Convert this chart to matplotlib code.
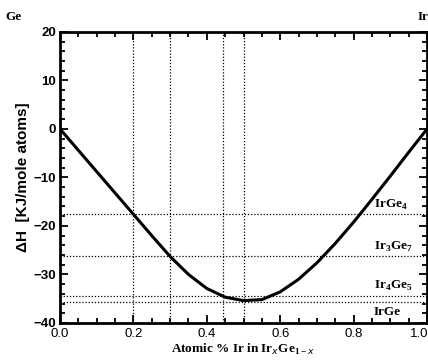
import numpy as np
import matplotlib
matplotlib.use("Agg")
import matplotlib.pyplot as plt
from matplotlib.ticker import MultipleLocator, FuncFormatter

# formation enthalpy curve
x_ir = [0.0, 0.05, 0.1, 0.15, 0.2, 0.25, 0.3, 0.35, 0.4, 0.45, 0.5, 0.55, 0.6, 0.65, 0.7, 0.75, 0.8, 0.85, 0.9, 0.95, 1.0]
dh = [0.0, -4.4, -8.8, -13.2, -17.6, -22.0, -26.3, -30.0, -32.9, -34.7, -35.4, -35.2, -33.6, -31.0, -27.6, -23.6, -19.2, -14.5, -9.7, -4.8, 0.0]

# compounds: composition and enthalpy
compounds = ["IrGe$_4$", "Ir$_3$Ge$_7$", "Ir$_4$Ge$_5$", "IrGe"]
comp_x = [0.2, 0.3, 0.444, 0.5]
comp_dh = [-17.6, -26.3, -34.4, -35.6]
label_y = [-15.6, -24.3, -32.4, -37.8]

plt.rcParams["font.family"] = "Liberation Sans"
plt.rcParams["mathtext.fontset"] = "custom"
plt.rcParams["mathtext.rm"] = "Liberation Serif:bold"
plt.rcParams["mathtext.bf"] = "Liberation Serif:bold"

fig = plt.figure(figsize=(4.28, 3.62), dpi=100)
ax = fig.add_axes([0.140, 0.108, 0.858, 0.804])

for cx in comp_x:
    ax.axvline(cx, color="k", ls=(0, (1, 1.5)), lw=0.9)
for cy in comp_dh:
    ax.axhline(cy, color="k", ls=(0, (1, 1.5)), lw=0.9)

ax.plot(x_ir, dh, color="k", lw=2.2)

for name, ly in zip(compounds, label_y):
    ax.text(0.855, ly, name, fontsize=9.5, fontweight="bold",
            family="Liberation Serif", ha="left", va="center")

ax.set_xlim(0, 1)
ax.set_ylim(-40, 20)
ax.xaxis.set_major_locator(MultipleLocator(0.2))
ax.xaxis.set_minor_locator(MultipleLocator(0.05))
# the 1.0 label is drawn separately so it stays inside the figure
ax.xaxis.set_major_formatter(FuncFormatter(lambda v, p: "" if v > 0.99 else f"{v:.1f}"))
ax.yaxis.set_major_locator(MultipleLocator(10))
ax.yaxis.set_minor_locator(MultipleLocator(2))
ax.tick_params(which="both", direction="in", top=True, right=True, width=1.3)
ax.tick_params(which="major", length=6)
ax.tick_params(which="minor", length=3.5)
ax.tick_params(axis="x", labelsize=9.5, pad=4)
ax.tick_params(axis="y", labelsize=9.5, pad=3)
for sp in ax.spines.values():
    sp.set_linewidth(2)

ax.annotate("1.0", xy=(1.0, 0), xycoords=("data", "axes fraction"),
            xytext=(1, -4), textcoords="offset points",
            ha="right", va="top", fontsize=9.5, annotation_clip=False)

ax.set_ylabel("ΔH  [KJ/mole atoms]", fontsize=11, fontweight="bold", labelpad=2)
ax.set_xlabel("Atomic % Ir in Ir$_x$Ge$_{1-x}$", fontsize=9.5, fontweight="bold",
              family="Liberation Serif", labelpad=1)

fig.text(0.012, 0.945, "Ge", fontsize=9.5, fontweight="bold", family="Liberation Serif")
fig.text(0.975, 0.945, "Ir", fontsize=9.5, fontweight="bold", family="Liberation Serif")

fig.canvas.draw()
for lab in ax.get_yticklabels():
    lab.set_fontweight("bold")

fig.savefig("out.png", dpi=100)
